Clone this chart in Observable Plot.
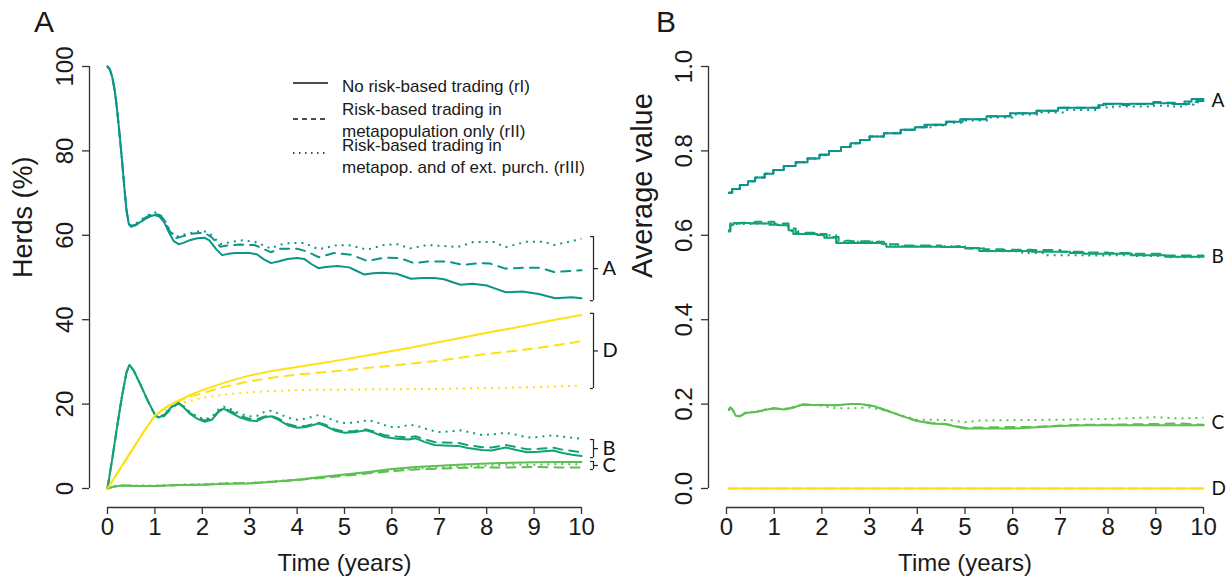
<!DOCTYPE html>
<html><head><meta charset="utf-8">
<script src="https://cdn.jsdelivr.net/npm/d3@7"></script>
<script src="https://cdn.jsdelivr.net/npm/@observablehq/plot@0.6"></script>
<style>
html,body{margin:0;padding:0;background:#fff;}
#wrap{position:relative;width:1226px;height:579px;overflow:hidden;font-family:"Liberation Sans",Arial,sans-serif;color:#1a1a1a;}
#panelA{position:absolute;left:0;top:0;}
#panelB{position:absolute;left:625px;top:0;}
.letter{position:absolute;font-size:30px;line-height:30px;}
.leg{position:absolute;left:342px;font-size:17px;line-height:20px;white-space:nowrap;}
#legsvg{position:absolute;left:0;top:0;}
</style></head><body>
<div id="wrap">
  <div id="panelA"></div>
  <div id="panelB"></div>
  <div class="letter" style="left:34px;top:7px">A</div>
  <div class="letter" style="left:656px;top:7px">B</div>
  <div id="legend"></div>
</div>
<script>
// ---------- tick labels / categories ----------
const xTicks = [0,1,2,3,4,5,6,7,8,9,10];
const yTicksA = [0,20,40,60,80,100];
const yTicksB = [0,0.2,0.4,0.6,0.8,1.0];
const groups = ["A","B","C","D"];
const groupColors = ["#0b9488","#13a274","#5cbf4f","#ffe014"];
const scenarios = ["rI","rII","rIII"];
const legendLabels = [["No risk-based trading (rI)"],["Risk-based trading in","metapopulation only (rII)"],["Risk-based trading in","metapop. and of ext. purch. (rIII)"]];
const bracketLabels = ["A","D","B","C"];
const bracketLow = [44.5, 23.7, 7.3, 4.5];
const bracketHigh = [59.7, 41.5, 11.6, 6.4];

// ---------- Panel A: Herds (%) ----------
const herdsA_rI = [[0,100],[0.05,99.3],[0.1,97.5],[0.15,94.5],[0.2,90],[0.25,84.5],[0.3,78.5],[0.35,72],[0.4,66],[0.45,62.6],[0.5,62.0],[0.6,62.4],[0.7,63.2],[0.8,63.9],[0.9,64.5],[1.0,64.8],[1.1,64.4],[1.2,63.0],[1.3,60.6],[1.4,58.6],[1.5,57.9],[1.6,58.2],[1.75,58.9],[1.9,59.3],[2.05,59.4],[2.15,58.8],[2.3,56.6],[2.42,55.3],[2.55,55.6],[2.7,55.8],[2.85,55.8],[3.0,55.8],[3.15,55.5],[3.3,54.3],[3.45,53.4],[3.6,53.8],[3.8,54.4],[4.0,54.6],[4.15,54.4],[4.3,53.2],[4.45,52.2],[4.6,52.5],[4.85,52.7],[5.1,52.4],[5.25,51.6],[5.42,50.7],[5.6,51.0],[5.8,51.1],[6.1,50.9],[6.25,50.3],[6.4,49.7],[6.65,49.9],[6.9,49.9],[7.1,49.6],[7.3,48.8],[7.45,48.3],[7.7,48.5],[8.0,48.1],[8.2,47.3],[8.4,46.5],[8.75,46.7],[9.1,46.1],[9.3,45.5],[9.45,45.1],[9.8,45.3],[10,45.1]];
const herdsA_rII = [[0,100],[0.05,99.3],[0.1,97.5],[0.15,94.5],[0.2,90],[0.25,84.5],[0.3,78.5],[0.35,72],[0.4,66],[0.45,62.7],[0.5,62.2],[0.6,62.6],[0.7,63.4],[0.8,64.2],[0.9,64.8],[1.0,65.1],[1.1,64.8],[1.2,63.6],[1.3,61.2],[1.43,59.3],[1.6,59.8],[1.8,60.4],[2.05,60.6],[2.2,59.5],[2.38,57.3],[2.55,57.6],[2.8,57.8],[3.1,57.7],[3.25,57.0],[3.44,56.0],[3.65,56.8],[4.0,56.8],[4.2,56.2],[4.46,54.8],[4.78,55.8],[5.13,55.4],[5.3,54.7],[5.48,53.9],[5.83,54.7],[6.18,54.6],[6.46,53.4],[6.75,53.8],[7.17,53.8],[7.48,53.0],[7.87,53.4],[8.07,53.3],[8.4,52.1],[8.78,52.3],[9.13,52.3],[9.42,51.3],[10,51.7]];
const herdsA_rIII = [[0,100],[0.05,99.3],[0.1,97.5],[0.15,94.5],[0.2,90],[0.25,84.5],[0.3,78.5],[0.35,72],[0.4,66],[0.45,62.8],[0.5,62.3],[0.6,62.8],[0.7,63.6],[0.8,64.4],[0.9,65.0],[1.0,65.4],[1.1,65.0],[1.2,63.8],[1.3,61.5],[1.43,59.6],[1.7,60.4],[2.0,61.1],[2.15,60.5],[2.38,57.9],[2.6,58.4],[2.85,58.8],[3.1,58.5],[3.25,57.8],[3.44,56.9],[3.65,57.8],[3.86,58.2],[4.15,58.2],[4.3,57.4],[4.46,56.7],[4.85,57.7],[5.13,57.6],[5.3,57.1],[5.48,56.6],[5.83,57.7],[6.11,57.9],[6.39,56.9],[6.75,57.7],[7.17,57.4],[7.38,57.2],[7.72,58.4],[8.15,58.4],[8.4,57.2],[8.85,58.5],[9.2,58.5],[9.42,57.7],[9.9,58.9],[10,59.2]];

const herdsB_rI = [[0,0],[0.1,7],[0.2,14.5],[0.3,21.5],[0.4,27.5],[0.46,29.3],[0.55,28.0],[0.7,24.5],[0.85,20.8],[1.0,17.5],[1.08,16.8],[1.2,17.5],[1.35,19.3],[1.5,20.3],[1.6,19.3],[1.75,17.6],[1.9,16.5],[2.05,15.8],[2.2,16.3],[2.35,18.2],[2.45,18.9],[2.6,18.0],[2.8,16.8],[3.0,16.1],[3.15,16.0],[3.3,16.8],[3.45,17.1],[3.6,16.3],[3.8,15.0],[4.0,14.4],[4.2,14.6],[4.45,15.4],[4.6,14.8],[4.8,13.7],[5.0,13.2],[5.2,13.3],[5.45,13.8],[5.6,13.3],[5.85,12.2],[6.1,11.8],[6.35,11.6],[6.5,11.9],[6.7,11.0],[6.9,10.3],[7.1,10.2],[7.4,10.1],[7.6,9.6],[7.9,9.1],[8.1,9.0],[8.4,9.7],[8.6,9.2],[8.85,8.6],[9.1,8.7],[9.4,9.0],[9.6,8.4],[9.8,8.0],[10,7.7]];
const herdsB_rII = [[0,0],[0.1,7],[0.2,14.5],[0.3,21.5],[0.4,27.5],[0.46,29.3],[0.55,28.0],[0.7,24.5],[0.85,20.8],[1.0,17.5],[1.08,16.6],[1.2,17.2],[1.35,19.0],[1.5,20.2],[1.6,19.4],[1.75,17.8],[1.9,16.8],[2.05,16.1],[2.2,16.6],[2.35,18.4],[2.45,19.1],[2.6,18.3],[2.8,17.2],[3.0,16.5],[3.15,16.4],[3.3,17.0],[3.45,17.3],[3.6,16.6],[3.8,15.3],[4.0,14.7],[4.2,14.9],[4.45,15.6],[4.6,15.1],[4.8,14.0],[5.0,13.5],[5.2,13.6],[5.45,14.0],[5.6,13.6],[5.85,12.6],[6.1,12.3],[6.35,12.1],[6.5,12.4],[6.7,11.6],[6.9,11.0],[7.1,10.9],[7.4,10.8],[7.6,10.3],[7.9,9.8],[8.1,9.7],[8.4,10.3],[8.6,9.9],[8.85,9.3],[9.1,9.4],[9.4,9.7],[9.6,9.2],[9.8,8.9],[10,8.6]];
const herdsB_rIII = [[0,0],[0.1,7],[0.2,14.5],[0.3,21.5],[0.4,27.5],[0.46,29.3],[0.55,28.0],[0.7,24.5],[0.85,20.8],[1.0,17.5],[1.08,16.9],[1.2,17.6],[1.35,19.4],[1.5,20.4],[1.6,19.6],[1.75,18.0],[1.9,17.0],[2.05,16.4],[2.2,17.0],[2.35,18.8],[2.45,19.4],[2.6,18.8],[2.8,17.7],[3.0,17.1],[3.15,17.2],[3.3,18.1],[3.45,18.4],[3.6,17.8],[3.8,16.8],[4.0,16.3],[4.2,16.6],[4.45,17.4],[4.6,17.0],[4.8,16.0],[5.0,15.5],[5.2,15.6],[5.5,16.2],[5.7,15.6],[5.95,14.6],[6.15,14.6],[6.4,15.1],[6.6,14.6],[6.8,13.8],[7.0,13.4],[7.2,13.5],[7.45,13.8],[7.65,13.3],[7.9,12.7],[8.1,12.8],[8.4,13.2],[8.6,12.8],[8.85,12.1],[9.1,12.2],[9.4,12.6],[9.6,12.3],[9.8,12.0],[10,11.8]];

const herdsC_rI = [[0,0],[0.15,0.5],[0.3,0.7],[0.6,0.6],[1.0,0.6],[1.5,0.8],[2,0.9],[2.5,1.1],[3,1.2],[3.5,1.6],[4,2.1],[4.5,2.7],[5,3.3],[5.5,3.9],[6,4.6],[6.5,5.1],[7,5.4],[7.5,5.7],[8,5.9],[8.5,6.1],[9,6.2],[9.5,6.3],[10,6.3]];
const herdsC_rII = [[0,0],[0.15,0.5],[0.3,0.7],[0.6,0.6],[1.0,0.6],[1.5,0.8],[2,0.9],[2.5,1.2],[3,1.3],[3.5,1.6],[4,2.0],[4.5,2.5],[5,3.0],[5.5,3.6],[6,4.1],[6.5,4.5],[7,4.7],[7.5,4.9],[8,5.0],[8.5,5.0],[9,5.1],[9.5,5.0],[10,5.0]];
const herdsC_rIII = [[0,0],[0.15,0.5],[0.3,0.7],[0.6,0.7],[1,0.7],[1.5,0.9],[2,1.0],[2.5,1.3],[3,1.3],[3.5,1.7],[4,2.1],[4.5,2.6],[5,3.2],[5.5,3.8],[6,4.3],[6.5,4.7],[7,5.0],[7.5,5.2],[8,5.4],[8.5,5.7],[9,5.6],[9.5,5.8],[10,5.7]];

const herdsD_rI = [[0,0],[0.25,4.4],[0.5,8.8],[0.75,13.2],[1.0,17.3],[1.25,19.4],[1.5,20.9],[1.75,22.2],[2,23.3],[2.5,25.2],[3,26.8],[3.5,27.9],[4,28.8],[4.5,29.7],[5,30.6],[5.5,31.6],[6,32.6],[6.5,33.6],[7,34.7],[7.5,35.8],[8,36.9],[8.5,37.9],[9,39.0],[9.5,40.1],[10,41.1]];
const herdsD_rII = [[0,0],[0.25,4.4],[0.5,8.8],[0.75,13.2],[1.0,17.3],[1.25,19.3],[1.5,20.7],[1.75,21.8],[2,22.6],[2.5,24.2],[3,25.4],[3.5,26.3],[4,27.0],[4.5,27.5],[5,28.0],[5.5,28.6],[6,29.1],[6.5,29.7],[7,30.3],[7.5,31.1],[8,31.9],[8.5,32.5],[9,33.2],[9.5,34.0],[10,34.9]];
const herdsD_rIII = [[0,0],[0.25,4.4],[0.5,8.8],[0.75,13.2],[1.0,17.2],[1.25,19.0],[1.5,20.0],[1.75,20.8],[2,21.5],[2.5,22.3],[3,22.8],[3.5,23.1],[4,23.3],[4.5,23.4],[5,23.4],[5.5,23.5],[6,23.5],[6.5,23.6],[7,23.6],[7.5,23.7],[8,23.8],[8.5,23.9],[9,24.0],[9.5,24.2],[10,24.4]];

// ---------- Panel B: Average value ----------
const avgA_rI = [[0.05,0.701],[0.12,0.710],[0.28,0.719],[0.45,0.728],[0.6,0.737],[0.8,0.746],[0.98,0.755],[1.2,0.764],[1.45,0.773],[1.7,0.782],[1.95,0.791],[2.15,0.800],[2.4,0.809],[2.6,0.818],[2.8,0.826],[3.0,0.834],[3.3,0.842],[3.65,0.850],[3.95,0.856],[4.15,0.862],[4.6,0.869],[4.9,0.875],[5.45,0.882],[5.95,0.889],[6.5,0.895],[6.95,0.902],[7.8,0.908],[7.9,0.912],[8.3,0.909],[8.45,0.912],[8.95,0.916],[9.1,0.913],[9.35,0.911],[9.6,0.917],[9.75,0.923],[10,0.923]];
const avgA_rII = [[0.05,0.701],[0.12,0.710],[0.28,0.719],[0.45,0.728],[0.6,0.737],[0.8,0.746],[0.98,0.755],[1.2,0.764],[1.45,0.773],[1.7,0.782],[1.95,0.791],[2.15,0.800],[2.4,0.809],[2.6,0.818],[2.8,0.826],[3.0,0.834],[3.3,0.842],[3.65,0.850],[3.95,0.856],[4.2,0.862],[4.6,0.869],[4.95,0.875],[5.45,0.882],[5.95,0.889],[6.5,0.895],[7.0,0.902],[7.8,0.908],[7.95,0.911],[8.5,0.911],[8.95,0.914],[9.4,0.911],[9.7,0.916],[9.85,0.918],[10,0.918]];
const avgA_rIII = [[0.05,0.701],[0.12,0.710],[0.28,0.719],[0.45,0.728],[0.6,0.737],[0.8,0.746],[0.98,0.755],[1.2,0.764],[1.45,0.773],[1.7,0.782],[1.95,0.791],[2.15,0.800],[2.4,0.809],[2.6,0.818],[2.8,0.826],[3.0,0.834],[3.3,0.842],[3.65,0.850],[3.95,0.856],[4.3,0.860],[4.6,0.867],[5.0,0.872],[5.5,0.879],[6.0,0.886],[6.6,0.891],[7.1,0.897],[7.8,0.903],[8.1,0.905],[8.9,0.907],[9.3,0.905],[9.6,0.910],[9.8,0.915],[10,0.915]];

const avgB_rI = [[0.05,0.609],[0.08,0.625],[0.15,0.629],[0.5,0.628],[0.9,0.625],[1.1,0.624],[1.3,0.612],[1.4,0.603],[1.9,0.601],[2.05,0.594],[2.3,0.582],[3.25,0.580],[3.35,0.573],[4.5,0.572],[5.0,0.570],[5.3,0.563],[6.4,0.561],[7.2,0.558],[7.5,0.556],[8.5,0.553],[9.2,0.549],[10,0.549]];
const avgB_rII = [[0.05,0.612],[0.08,0.628],[0.3,0.630],[0.6,0.632],[1.0,0.628],[1.3,0.616],[1.45,0.606],[1.9,0.603],[2.1,0.596],[2.35,0.587],[2.6,0.586],[3.0,0.585],[3.3,0.579],[3.6,0.576],[4.5,0.573],[4.8,0.574],[5.0,0.569],[5.4,0.567],[5.8,0.566],[6.4,0.565],[7.0,0.561],[7.5,0.559],[8.0,0.558],[8.5,0.556],[9.2,0.552],[10,0.551]];
const avgB_rIII = [[0.05,0.610],[0.1,0.627],[0.5,0.628],[1.0,0.625],[1.3,0.610],[1.5,0.603],[2.0,0.600],[2.3,0.585],[3.3,0.578],[3.5,0.574],[5.0,0.569],[5.4,0.562],[6.2,0.558],[6.7,0.553],[7.5,0.552],[8.0,0.553],[8.5,0.551],[9.2,0.548],[10,0.547]];

const avgC_rI = [[0.05,0.186],[0.08,0.192],[0.12,0.188],[0.2,0.172],[0.28,0.171],[0.4,0.179],[0.6,0.181],[0.8,0.186],[1.0,0.190],[1.2,0.187],[1.4,0.192],[1.6,0.199],[1.8,0.198],[2.0,0.198],[2.3,0.197],[2.6,0.200],[2.8,0.200],[3.1,0.195],[3.4,0.183],[3.7,0.171],[4.0,0.160],[4.3,0.154],[4.6,0.152],[4.8,0.147],[5.0,0.142],[5.5,0.142],[6.0,0.142],[6.5,0.145],[7.0,0.148],[7.5,0.150],[8,0.150],[9,0.150],[10,0.150]];
const avgC_rII = [[0.05,0.186],[0.08,0.192],[0.12,0.188],[0.2,0.172],[0.28,0.171],[0.4,0.179],[0.6,0.181],[0.8,0.186],[1.0,0.190],[1.2,0.187],[1.4,0.192],[1.6,0.199],[1.8,0.198],[2.0,0.198],[2.3,0.197],[2.6,0.200],[2.8,0.200],[3.1,0.195],[3.4,0.183],[3.7,0.171],[4.0,0.160],[4.3,0.155],[4.6,0.153],[4.8,0.148],[5.0,0.144],[5.5,0.145],[6.0,0.146],[6.5,0.146],[7.0,0.149],[7.5,0.151],[8,0.151],[8.5,0.152],[9,0.153],[9.5,0.154],[10,0.151]];
const avgC_rIII = [[0.05,0.187],[0.08,0.192],[0.12,0.188],[0.2,0.173],[0.28,0.172],[0.4,0.180],[0.6,0.182],[0.8,0.187],[1.0,0.190],[1.2,0.188],[1.4,0.193],[1.6,0.199],[1.8,0.198],[2.0,0.196],[2.3,0.190],[2.6,0.190],[3.0,0.192],[3.4,0.183],[3.7,0.172],[4.0,0.163],[4.3,0.163],[4.7,0.162],[5.0,0.157],[5.3,0.161],[6,0.162],[7,0.163],[8,0.165],[8.5,0.167],[9,0.169],[9.5,0.166],[10,0.168]];

const avgD_rI = [[0.05,0],[10,0]];
const avgD_rII = [[0.05,0],[10,0]];
const avgD_rIII = [[0.05,0],[10,0]];

// ---------- build tables ----------
function table(spec) {
  const out = [];
  for (const [g, byS] of Object.entries(spec))
    for (const [s, pts] of Object.entries(byS))
      for (const [t, v] of pts) out.push({g, s, t, v});
  return out;
}
const dataA = table({
  A: {rI: herdsA_rI, rII: herdsA_rII, rIII: herdsA_rIII},
  D: {rI: herdsD_rI, rII: herdsD_rII, rIII: herdsD_rIII},
  B: {rI: herdsB_rI, rII: herdsB_rII, rIII: herdsB_rIII},
  C: {rI: herdsC_rI, rII: herdsC_rII, rIII: herdsC_rIII}
});
const dataB = table({
  A: {rI: avgA_rI, rII: avgA_rII, rIII: avgA_rIII},
  B: {rI: avgB_rI, rII: avgB_rII, rIII: avgB_rIII},
  C: {rI: avgC_rI, rII: avgC_rII, rIII: avgC_rIII},
  D: {rI: avgD_rI, rII: avgD_rII, rIII: avgD_rIII}
});
const brackets = bracketLabels.map((label, i) => ({label, lo: bracketLow[i], hi: bracketHigh[i], mid: (bracketLow[i] + bracketHigh[i]) / 2}));
const endLabelsB = groups.map(g => ({label: g, v: d3.mean(scenarios, s => dataB.filter(d => d.g === g && d.s === s).at(-1).v)}));

const dashes = {rI: "none", rII: "9,7", rIII: "2,5"};
const xMax = xTicks[xTicks.length - 1];
const FONT = "'Liberation Sans', Arial, sans-serif";
const AX = "#333";

function seriesMarks(data, curveFor) {
  const marks = [];
  for (const s of ["rIII", "rII", "rI"]) {
    for (const g of groups) {
      marks.push(Plot.line(data.filter(d => d.s === s && d.g === g), {
        x: "t", y: "v", stroke: "g", strokeWidth: 2,
        strokeDasharray: dashes[s], strokeLinecap: s === "rIII" ? "butt" : "round",
        curve: curveFor(g)
      }));
    }
  }
  return marks;
}

function axes(yTicks, yFormat, yTitle, titleSize, insetL, insetB) {
  return [
    Plot.ruleX([xTicks[0]], {y1: yTicks[0], y2: yTicks[yTicks.length - 1], dx: -insetL, stroke: AX, strokeWidth: 1.3}),
    Plot.ruleY([yTicks[0]], {x1: xTicks[0], x2: xMax, dy: insetB, stroke: AX, strokeWidth: 1.3}),
    Plot.axisX({ticks: xTicks, tickSize: 7, tickPadding: 3, label: null, fontSize: 24, stroke: AX, strokeWidth: 1.3}),
    Plot.axisY({ticks: yTicks, tickFormat: yFormat, tickSize: 7, tickPadding: 10, tickRotate: -90, textAnchor: "middle", lineAnchor: "bottom", label: null, fontSize: 24, stroke: AX, strokeWidth: 1.3}),
    Plot.text([yTitle], {frameAnchor: "left", rotate: -90, dx: -66, dy: -9, fontSize: titleSize, fill: "#1a1a1a"}),
    Plot.text(["Time (years)"], {frameAnchor: "bottom", dx: 9, dy: 63, fontSize: 24, fill: "#1a1a1a"})
  ];
}

const colorScale = {domain: groups, range: groupColors};

const plotA = Plot.plot({
  width: 625, height: 579,
  marginLeft: 89, marginRight: 44, marginTop: 66, marginBottom: 72,
  x: {domain: [xTicks[0], xMax], insetLeft: 18},
  y: {domain: [yTicksA[0], yTicksA[yTicksA.length - 1]], insetBottom: 19},
  color: colorScale,
  style: {fontFamily: FONT, fontSize: "24px", color: "#1a1a1a", background: "transparent", overflow: "visible"},
  marks: [
    ...axes(yTicksA, d3.format("d"), "Herds (%)", 27, 18, 19),
    ...seriesMarks(dataA, () => "linear"),
    Plot.ruleX(brackets, {x: () => xMax, y1: "lo", y2: "hi", dx: 12, stroke: "#222", strokeWidth: 1.2}),
    Plot.ruleY(brackets, {y: "lo", x1: () => xMax, x2: () => xMax, insetLeft: -3, dx: 12, stroke: "#222", strokeWidth: 1.2}),
    Plot.ruleY(brackets, {y: "hi", x1: () => xMax, x2: () => xMax, insetLeft: -3, dx: 12, stroke: "#222", strokeWidth: 1.2}),
    Plot.ruleY(brackets, {y: "mid", x1: () => xMax, x2: () => xMax, insetRight: -5, dx: 12, stroke: "#222", strokeWidth: 1.2}),
    Plot.text(brackets, {x: () => xMax, y: "mid", text: "label", dx: 21, textAnchor: "start", fontSize: 20, fontFamily: "Lato, 'Open Sans', sans-serif", fill: "#111"})
  ]
});
document.getElementById("panelA").appendChild(plotA);

const plotB = Plot.plot({
  width: 601, height: 579,
  marginLeft: 83, marginRight: 23, marginTop: 66, marginBottom: 72,
  x: {domain: [xTicks[0], xMax], insetLeft: 18},
  y: {domain: [yTicksB[0], yTicksB[yTicksB.length - 1]], insetBottom: 19},
  color: colorScale,
  style: {fontFamily: FONT, fontSize: "24px", color: "#1a1a1a", background: "transparent", overflow: "visible"},
  marks: [
    ...axes(yTicksB, d3.format(".1f"), "Average value", 29, 18, 19),
    ...seriesMarks(dataB, g => (g === "A" || g === "B") ? "step-after" : "linear"),
    Plot.text(endLabelsB, {x: () => xMax, y: "v", text: "label", dx: 8, textAnchor: "start", fontSize: 19, fontFamily: "Lato, 'Open Sans', sans-serif", fill: "#111"})
  ]
});
document.getElementById("panelB").appendChild(plotB);

// ---------- legend (HTML, over the upper part of panel A) ----------
const legend = document.getElementById("legend");
const lineTops = [[77], [100, 122], [136, 158]];
const sampleY = [83, 119, 153];
legendLabels.forEach((lines, i) => {
  lines.forEach((txt, j) => {
    const d = document.createElement("div");
    d.className = "leg";
    d.style.top = lineTops[i][j] + "px";
    d.textContent = txt;
    legend.appendChild(d);
  });
});
const svgNS = "http://www.w3.org/2000/svg";
const lsvg = document.createElementNS(svgNS, "svg");
lsvg.setAttribute("id", "legsvg");
lsvg.setAttribute("width", 400); lsvg.setAttribute("height", 200);
const legDash = {rI: null, rII: "5,4", rIII: "1.5,4.5"};
scenarios.forEach((s, i) => {
  const l = document.createElementNS(svgNS, "line");
  l.setAttribute("x1", 293); l.setAttribute("x2", 328);
  l.setAttribute("y1", sampleY[i]); l.setAttribute("y2", sampleY[i]);
  l.setAttribute("stroke", "#111"); l.setAttribute("stroke-width", 1.6);
  if (legDash[s]) l.setAttribute("stroke-dasharray", legDash[s]);
  lsvg.appendChild(l);
});
legend.appendChild(lsvg);
</script>
</body></html>
